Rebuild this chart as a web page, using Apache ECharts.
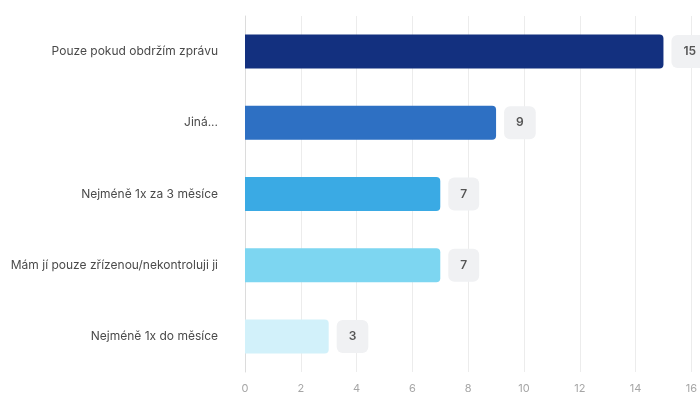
<!DOCTYPE html>
<html>
<head>
<meta charset="utf-8">
<script src="https://cdn.jsdelivr.net/npm/echarts@6/dist/echarts.min.js"></script>
<style>
  html, body { margin: 0; padding: 0; background: #fff; }
  #chart { width: 700px; height: 394px; }
</style>
</head>
<body>
<div id="chart"></div>
<script>
// Answers, top to bottom
const categories = [
  'Pouze pokud obdržím zprávu',
  'Jiná...',
  'Nejméně 1x za 3 měsíce',
  'Mám jí pouze zřízenou/nekontroluji ji',
  'Nejméně 1x do měsíce'
];
const counts = [15, 9, 7, 7, 3];
const barColors = ['#13307f', '#2e70c3', '#3aaae4', '#7dd6f1', '#d2f1fa'];
const xTicks = { min: 0, max: 16, interval: 2 };

const chart = echarts.init(document.getElementById('chart'), null, { renderer: 'canvas' });

chart.setOption({
  animation: false,
  textStyle: { fontFamily: 'Inter, "Noto Sans", sans-serif' },
  grid: { left: 245, right: 6, top: 16, bottom: 18, containLabel: false },
  xAxis: {
    type: 'value',
    min: xTicks.min,
    max: xTicks.max,
    interval: xTicks.interval,
    axisLine: { show: false },
    axisTick: { show: false },
    axisLabel: { color: '#a6a6a6', fontSize: 11, margin: 11 },
    splitLine: { show: true, lineStyle: { color: '#ececec', width: 1 } }
  },
  yAxis: {
    type: 'category',
    inverse: true,
    data: categories,
    axisLine: { show: true, lineStyle: { color: '#dcdcdc' } },
    axisTick: { show: false },
    axisLabel: { color: '#4a4a4a', fontSize: 12, margin: 27 }
  },
  series: [{
    type: 'bar',
    barWidth: 34,
    data: counts.map((v, i) => ({
      value: v,
      itemStyle: { color: barColors[i], borderRadius: [0, 4, 4, 0] }
    })),
    label: {
      show: true,
      position: 'right',
      distance: 8,
      color: '#555',
      fontSize: 12,
      fontWeight: 600,
      backgroundColor: '#f0f1f3',
      borderRadius: 6,
      padding: [10, 12],
      lineHeight: 13
    }
  }]
});
</script>
</body>
</html>
